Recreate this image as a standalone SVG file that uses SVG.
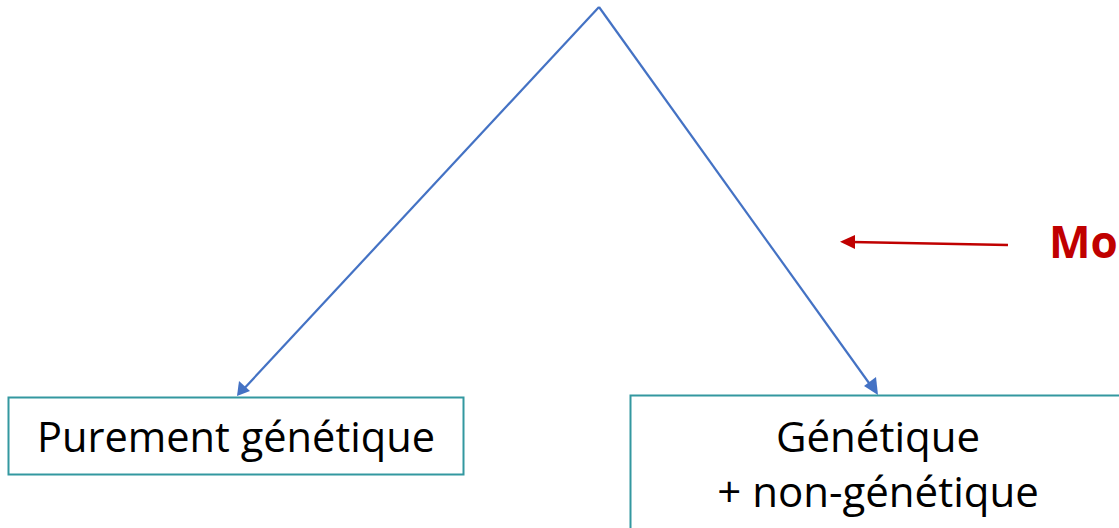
<svg xmlns="http://www.w3.org/2000/svg" width="1119" height="528" viewBox="0 0 1119 528">
<style>
.box{fill:#fff;stroke:#3398A0;stroke-width:2}
.lbl{font-family:"Open Sans","Noto Sans",sans-serif;font-size:42px;fill:#000;text-anchor:middle}
.blue{stroke:#4472C4;stroke-width:2.2;fill:none}
.red{stroke:#C00000;stroke-width:2.5;fill:none}
</style>
<g id="connectors">
<path class="blue" d="M599,7L240,393"/>
<path d="M237,396L239,381L250,391z" fill="#4472C4"/>
<path class="blue" d="M599,7L874,390"/>
<path d="M878,395L864,386L876,377z" fill="#4472C4"/>
<path class="red" d="M1008,245L852,242"/>
<path d="M840,241.7L855,235L855,249z" fill="#C00000"/>
</g>
<g id="node-purement">
<rect class="box" x="8.5" y="397.5" width="455" height="77"/>
<text class="lbl" x="236" y="452" textLength="398" lengthAdjust="spacingAndGlyphs">Purement génétique</text>
</g>
<g id="node-genetique">
<rect class="box" x="630.5" y="395.5" width="500" height="160"/>
<text class="lbl" x="878" y="452">Génétique</text>
<text class="lbl" x="878" y="507">+ non-génétique</text>
</g>
<g id="label-mo">
<text x="1049" y="258" font-family="'Open Sans','Noto Sans',sans-serif" font-size="44" font-weight="bold" fill="#C00000">Mo</text>
</g>
</svg>
